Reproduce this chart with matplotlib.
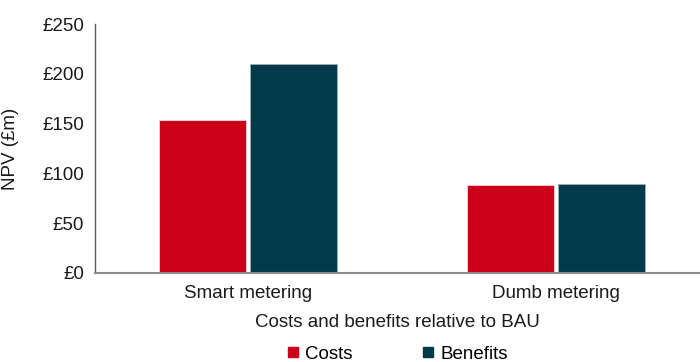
import numpy as np
import matplotlib.pyplot as plt
from matplotlib.lines import Line2D

plt.rcParams['font.family'] = ['Liberation Sans', 'DejaVu Sans']

categories = ['Smart metering', 'Dumb metering']
costs = [154, 88]
benefits = [210, 89]
y_ticks = [0, 50, 100, 150, 200, 250]

red = '#CC0019'
teal = '#023A4B'
fs = 13.5

fig = plt.figure(figsize=(7, 3.62), dpi=100)
ax = fig.add_axes([0.1357, 0.2459, 0.8643, 0.6878])

x = np.arange(len(categories))
w = 0.282
off = 0.148
ax.bar(x - off, costs, w, color=red, edgecolor='#f2dadd', linewidth=0.6)
ax.bar(x + off, benefits, w, color=teal, edgecolor='#9fb3ba', linewidth=0.6)

ax.set_xlim(-0.497, 1.468)
ax.set_ylim(0, 250)
ax.set_yticks(y_ticks)
ax.set_yticklabels(['£%d' % v for v in y_ticks], fontsize=fs, color='#1a1a1a')
ax.set_xticks(x)
ax.set_xticklabels(categories, fontsize=fs, color='#1a1a1a')
ax.tick_params(length=0, pad=8)
ax.tick_params(axis='x', pad=9)

for s in ['top', 'right']:
    ax.spines[s].set_visible(False)
ax.spines['left'].set_color('#595959')
ax.spines['bottom'].set_color('#8c8c8c')
ax.spines['left'].set_linewidth(1.0)
ax.spines['bottom'].set_linewidth(1.5)

ax.set_ylabel('NPV (£m)', fontsize=fs, color='#1a1a1a', labelpad=4)
ax.yaxis.set_label_coords(-0.125, 0.5)
ax.text(0.5, -0.2, 'Costs and benefits relative to BAU', fontsize=fs,
        color='#1a1a1a', ha='center', va='center', transform=ax.transAxes)

handles = [Line2D([], [], marker='s', linestyle='none', markersize=7, color=red),
           Line2D([], [], marker='s', linestyle='none', markersize=7, color=teal)]
fig.legend(handles, ['Costs', 'Benefits'], loc='center', bbox_to_anchor=(0.568, 0.022),
           ncol=2, frameon=False, fontsize=fs, handlelength=0.6, handletextpad=0.35,
           columnspacing=3.7)

fig.savefig('out.png', dpi=100)
